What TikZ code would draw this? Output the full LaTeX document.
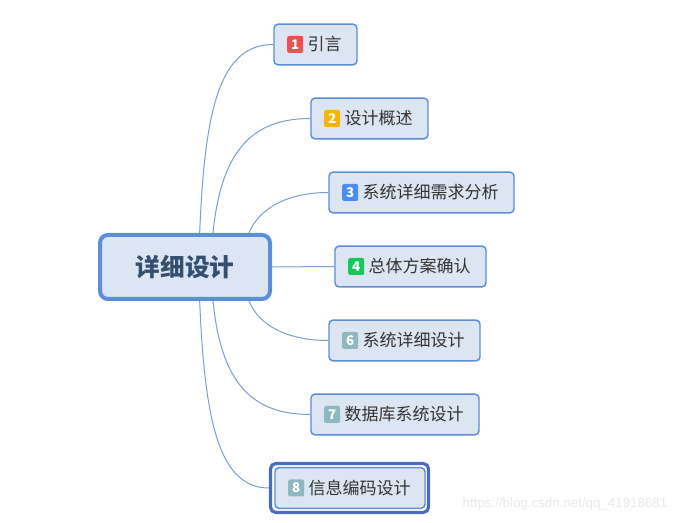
\documentclass[tikz,border=0pt]{standalone}
\usepackage{fontspec}
\setmainfont{Noto Sans CJK SC}
\newfontfamily\wmfont{Liberation Sans}
\usetikzlibrary{positioning}
\definecolor{boxfill}{HTML}{DCE5F2}
\definecolor{boxborder}{HTML}{5B8ED6}
\definecolor{selborder}{HTML}{4A6CBF}
\definecolor{roottext}{HTML}{34506F}
\definecolor{darktext}{HTML}{333333}
\definecolor{linkline}{HTML}{7A9DD3}
\definecolor{badgered}{HTML}{EC5050}
\definecolor{badgeorange}{HTML}{F8B400}
\definecolor{badgeblue}{HTML}{4A8EF3}
\definecolor{badgegreen}{HTML}{16C85A}
\definecolor{badgegrey}{HTML}{8EB8C1}
\tikzset{
  root/.style={rectangle, rounded corners=6pt, fill=boxfill, draw=boxborder, line width=3pt, minimum width=127.5pt, minimum height=48pt, font=\fontsize{18.5pt}{20pt}\selectfont\bfseries, text=roottext},
  topic/.style={rectangle, rounded corners=3pt, fill=boxfill, draw=boxborder, line width=1.1pt, minimum height=30.5pt, inner xsep=10.25pt, text width=#1, align=left, font=\fontsize{12.75pt}{15pt}\selectfont, text=darktext},
  selected/.style={rectangle, rounded corners=4pt, fill=white, draw=selborder, line width=2.4pt, minimum width=118.5pt, minimum height=36.75pt},
  badge/.style={rectangle, rounded corners=1.5pt, minimum width=12pt, minimum height=12.75pt, inner sep=0pt, text=white, font=\fontsize{10pt}{10pt}\selectfont\bfseries},
  link/.style={draw=linkline, line width=0.75pt},
  watermark/.style={font=\wmfont\fontsize{10pt}{12pt}\selectfont, text=black!9}
}

\begin{document}
\begin{tikzpicture}[x=0.75pt, y=-0.75pt]

\useasboundingbox (0,0) rectangle (693,523);

\node[root] (design) at (185, 267) {详细设计};

\node[topic=41.75pt] (intro) at (315.5, 44.5) {\kern15pt 引言};
\node[topic=67.25pt] (overview) at (369.5, 118.5) {\kern15pt 设计概述};
\node[topic=118.25pt] (analysis) at (421.5, 192.5) {\kern15pt 系统详细需求分析};
\node[topic=92.75pt] (scheme) at (410.5, 266.5) {\kern15pt 总体方案确认};
\node[topic=92.75pt] (sysdesign) at (404.5, 340.5) {\kern15pt 系统详细设计};
\node[topic=105.5pt] (database) at (395, 414.5) {\kern15pt 数据库系统设计};
\node[selected] (codingsel) at (349.5, 488) {};
\node[topic=92pt] (coding) at (350, 488) {\kern15pt 信息编码设计};

\node[badge, fill=badgered, right=10.25pt of intro.west] {1};
\node[badge, fill=badgeorange, right=10.25pt of overview.west] {2};
\node[badge, fill=badgeblue, right=10.25pt of analysis.west] {3};
\node[badge, fill=badgegreen, right=10.25pt of scheme.west] {4};
\node[badge, fill=badgegrey, right=10.25pt of sysdesign.west] {6};
\node[badge, fill=badgegrey, right=10.25pt of database.west] {7};
\node[badge, fill=badgegrey, right=10.25pt of coding.west] {8};

\draw[link] ([xshift=11pt]design.north) .. controls +(5,-120) and +(-55,0) .. (intro.west);
\draw[link] ([xshift=21pt]design.north) .. controls +(8,-80) and +(-60,0) .. (overview.west);
\draw[link] ([xshift=48pt]design.north) .. controls +(10,-25) and +(-40,0) .. (analysis.west);
\draw[link] (design.east) -- (scheme.west);
\draw[link] ([xshift=48pt]design.south) .. controls +(10,25) and +(-40,0) .. (sysdesign.west);
\draw[link] ([xshift=21pt]design.south) .. controls +(8,80) and +(-60,0) .. (database.west);
\draw[link] ([xshift=11pt]design.south) .. controls +(5,120) and +(-50,0) .. (codingsel.west);

\node[watermark] (url) at (565, 504) {https://blog.csdn.net/qq\_41918681};

\end{tikzpicture}
\end{document}
